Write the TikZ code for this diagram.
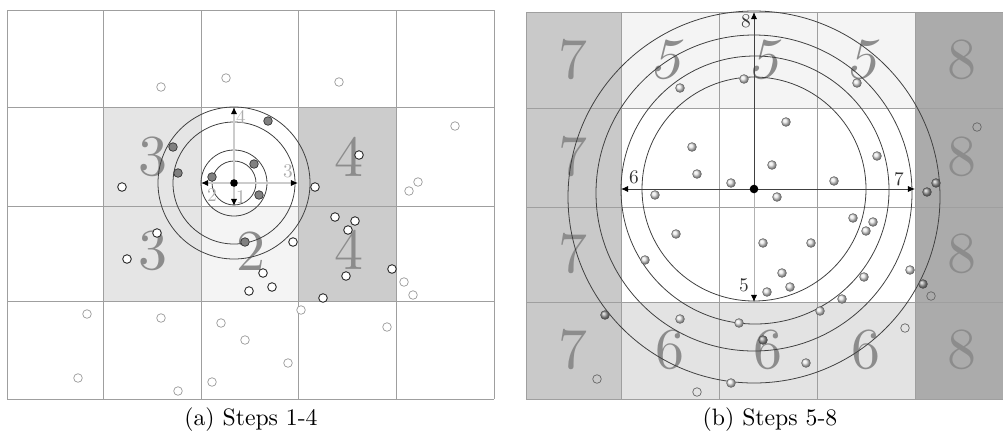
\documentclass[tikz,border=0pt]{standalone}
\usepackage{amsmath}
\usepackage{fontspec}
\usepackage{tikz}
\usetikzlibrary{calc,arrows.meta}
\newfontfamily\digitfont[Extension=.otf]{lmroman10-regular}

\begin{document}
\begin{tikzpicture}[x=0.02cm,y=-0.02cm,
    cellline/.style={draw=gray!75,line width=0.5pt},
    bigdigit/.style={text=gray!90,font=\digitfont\fontsize{33}{33}\selectfont,inner sep=0pt},
    ring/.style={draw=black!75,line width=0.45pt},
    axisA/.style={draw=gray!40,line width=0.6pt,-{Latex[color=black,length=4pt,width=3.5pt]}},
    axisB/.style={draw=black!75,line width=0.5pt,-{Latex[color=black,length=4pt,width=3.5pt]}},
    labelA/.style={text=gray!65,font=\digitfont\fontsize{11}{11}\selectfont,inner sep=0pt},
    labelB/.style={text=black!80,font=\digitfont\fontsize{11}{11}\selectfont,inner sep=0pt},
    dotdark/.style={fill=gray,draw=black!80,line width=0.4pt},
    dotwhite/.style={fill=white,draw=black!85,line width=0.5pt},
    dotfaint/.style={fill=white,draw=gray!80,line width=0.4pt},
    dothollow/.style={draw=black!60,line width=0.4pt},
    dotball/.style={shading=ball,ball color=gray!18,draw=black!60,line width=0.3pt},
    dotballdark/.style={shading=ball,ball color=gray!75,draw=black!70,line width=0.3pt},
    caption/.style={font=\digitfont\fontsize{13.5}{15}\selectfont,anchor=base}]

    \useasboundingbox (0,0) rectangle (1003,441);

    % --- 1. Panel (a): shaded cells and grid ---
    \fill[gray!20] (103,107) rectangle (201,301);
    \fill[gray!9] (201,206) rectangle (298,301);
    \fill[gray!40] (298,107) rectangle (396,301);
    \foreach \x in {7,103,201,298,396,494}
        \draw[cellline] (\x,10) -- (\x,399);
    \foreach \y in {10,107,206,301,399}
        \draw[cellline] (7,\y) -- (494,\y);

    \node[bigdigit] (a3up) at (153,157) {3};
    \node[bigdigit] (a3dn) at (153,251) {3};
    \node[bigdigit] (a2) at (251,251) {2};
    \node[bigdigit] (a4up) at (349,157) {4};
    \node[bigdigit] (a4dn) at (349,250) {4};

    % --- 2. Panel (a): search rings and steps ---
    \coordinate (CA) at (234,183);
    \coordinate (A1) at (234,206);
    \coordinate (A2) at (201,183);
    \coordinate (A3) at (298,183);
    \coordinate (A4) at (234,107);

    \foreach \r in {22,33,61,76}
        \draw[ring] (CA) circle (\r);
    \foreach \e in {A1,A2,A3,A4}
        \draw[axisA] (CA) -- (\e);

    % points
    \foreach \px/\py in {161/87,226/78,339/82,455/126,418/182,409/191,404/282,413/295,
        301/310,87/314,161/318,221/323,387/327,245/340,288/363,78/378,212/382,178/391}
        \filldraw[dotfaint] (\px,\py) circle (4.3);
    \foreach \px/\py in {122/187,315/187,359/155,335/217,355/221,348/230,293/242,157/233,
        127/259,263/273,249/291,272/287,346/276,392/269,323/298}
        \filldraw[dotwhite] (\px,\py) circle (4.3);
    \foreach \px/\py in {268/121,173/147,178/173,254/164,212/177,259/195,245/242}
        \filldraw[dotdark] (\px,\py) circle (4.3);
    \fill (CA) circle (3.8);

    \node[labelA] (a1) at (241,197) {1};
    \node[labelA] (a2l) at (212,195) {2};
    \node[labelA] (a3l) at (288,171) {3};
    \node[labelA] (a4l) at (241,117) {4};

    \node[caption] (capA) at (251,425) {(a) Steps 1-4};

    % --- 3. Panel (b): shaded cells and grid ---
    \fill[gray!42] (526,12) rectangle (621,399);
    \fill[gray!9] (621,12) rectangle (915,108);
    \fill[gray!22] (621,302) rectangle (915,399);
    \fill[gray!66] (915,12) rectangle (1003,399);
    \foreach \x in {526,621,719,817,915}
        \draw[cellline] (\x,12) -- (\x,399);
    \foreach \y in {12,108,207,302,399}
        \draw[cellline] (526,\y) -- (1003,\y);

    \foreach \row/\yy in {1/60,2/157,3/254,4/350} {
        \node[bigdigit] (b7\row) at (573,\yy) {7};
        \node[bigdigit] (b8\row) at (962,\yy) {8};
    }
    \foreach \col/\xx in {1/670,2/768,3/866} {
        \node[bigdigit,xslant=0.25] (b5\col) at (\xx,60) {5};
        \node[bigdigit] (b6\col) at (\xx,350) {6};
    }

    % --- 4. Panel (b): search rings and steps ---
    \coordinate (CB) at (754,189);
    \coordinate (B5) at (754,302);
    \coordinate (B6) at (621,189);
    \coordinate (B7) at (915,189);
    \coordinate (B8) at (754,12);

    \draw[ring] (CB) circle (112);
    \draw[ring] ($(CB)+(1,1)$) circle (134);
    \draw[ring] ($(CB)+(0,4)$) circle (158);
    \draw[ring] ($(CB)+(0,8)$) circle (186);

    \draw[axisB] (CB) -- (B8);
    \draw[axisB] (CB) -- (B6);
    \draw[axisB] (CB) -- (B7);
    \draw[axisB,draw=gray!60] (CB) -- (B5);

    % points
    \foreach \px/\py in {977/127,931/296,905/328,597/379,697/392}
        \draw[dothollow] (\px,\py) circle (4.3);
    \foreach \px/\py in {744/79,680/88,857/83,786/122,692/147,877/156,772/165,697/174,
        731/183,834/181,655/195,777/197,853/218,873/222,866/231,676/234,763/243,811/243,
        645/260,910/270,864/277,782/273,790/287,767/292,842/299,820/311,680/319,739/323,
        806/363,731/383}
        \shadedraw[dotball] (\px,\py) circle (4.4);
    \foreach \px/\py in {936/183,927/192,923/284,605/315,763/340}
        \shadedraw[dotballdark] (\px,\py) circle (4.4);
    \fill (CB) circle (4.3);

    \node[labelB] (b5l) at (744,285) {5};
    \node[labelB] (b6l) at (634,177) {6};
    \node[labelB] (b7l) at (899,179) {7};
    \node[labelB] (b8l) at (746,21) {8};

    \node[caption] (capB) at (770,425) {(b) Steps 5-8};

\end{tikzpicture}
\end{document}
